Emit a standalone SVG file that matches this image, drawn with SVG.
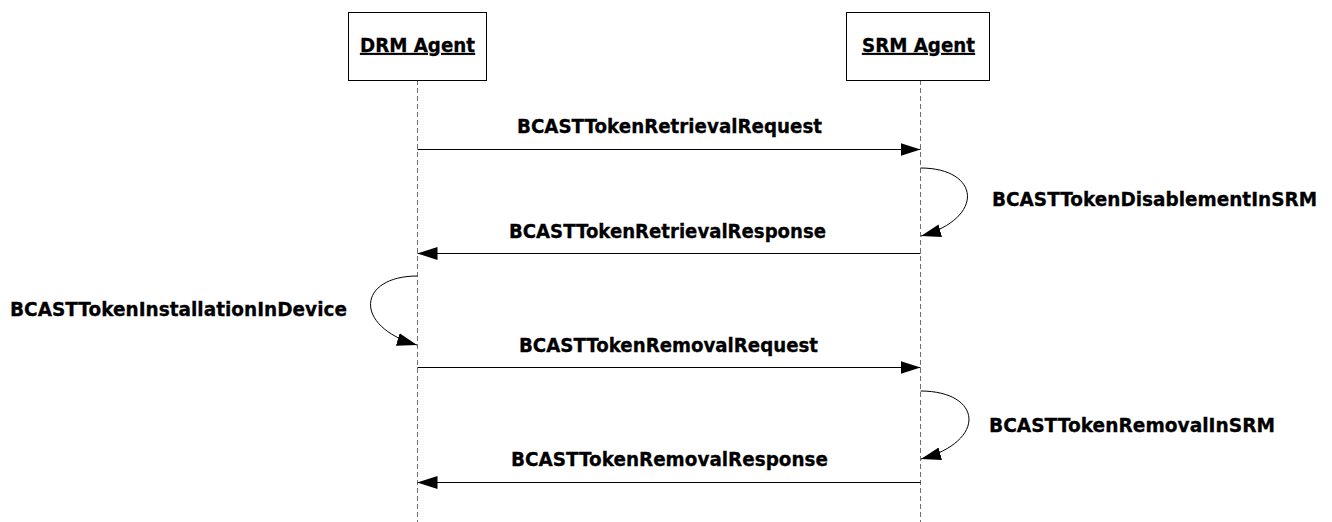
<svg xmlns="http://www.w3.org/2000/svg" width="1332" height="522" viewBox="0 0 1332 522">
  <style>
    .box { fill: #ffffff; stroke: #000000; stroke-width: 1; }
    .life { stroke: #707070; stroke-width: 1; stroke-dasharray: 5 3; fill: none; }
    .msg { stroke: #000000; stroke-width: 1; fill: none; marker-end: url(#head); }
    .lbl { font-family: "DejaVu Sans", Verdana, sans-serif; font-weight: bold; font-size: 19px; fill: #000000; stroke: #000000; stroke-width: 0.3; }
    .title { text-decoration: underline; }
  </style>
  <defs>
    <marker id="head" markerUnits="userSpaceOnUse" markerWidth="20" markerHeight="13" viewBox="0 0 20 13" refX="20" refY="6.5" orient="auto">
      <path d="M0,0 L20,6.5 L0,13 Z" fill="#000000"/>
    </marker>
  </defs>

  <!-- lifelines -->
  <g id="lifelines">
    <line class="life" x1="417.5" y1="80" x2="417.5" y2="522"/>
    <line class="life" x1="920.5" y1="80" x2="920.5" y2="522"/>
  </g>

  <!-- participants -->
  <g id="drm-agent">
    <rect class="box" x="348.5" y="12.5" width="138" height="68"/>
    <text class="lbl title" x="417.5" y="52" text-anchor="middle" textLength="115" lengthAdjust="spacingAndGlyphs">DRM Agent</text>
  </g>
  <g id="srm-agent">
    <rect class="box" x="846.5" y="12.5" width="143" height="68"/>
    <text class="lbl title" x="918.5" y="52" text-anchor="middle" textLength="113" lengthAdjust="spacingAndGlyphs">SRM Agent</text>
  </g>

  <!-- messages and self-calls -->
  <g id="connectors">
    <line class="msg" x1="417.5" y1="149.5" x2="920.5" y2="149.5"/>
    <path class="msg" d="M920.5,168 C980,168 986,218 921,236"/>
    <line class="msg" x1="920.5" y1="253.5" x2="417.5" y2="253.5"/>
    <path class="msg" d="M417.5,276 C358,276 352,326 417,345"/>
    <line class="msg" x1="417.5" y1="367.5" x2="920.5" y2="367.5"/>
    <path class="msg" d="M920.5,391 C982,391 988,441 921,459"/>
    <line class="msg" x1="920.5" y1="482.5" x2="417.5" y2="482.5"/>
  </g>

  <!-- message labels -->
  <g id="labels">
    <text class="lbl" x="517" y="133" textLength="305" lengthAdjust="spacingAndGlyphs">BCASTTokenRetrievalRequest</text>
    <text class="lbl" x="992" y="206" textLength="325" lengthAdjust="spacingAndGlyphs">BCASTTokenDisablementInSRM</text>
    <text class="lbl" x="509" y="238" textLength="317" lengthAdjust="spacingAndGlyphs">BCASTTokenRetrievalResponse</text>
    <text class="lbl" x="10" y="316" textLength="337" lengthAdjust="spacingAndGlyphs">BCASTTokenInstallationInDevice</text>
    <text class="lbl" x="519" y="352" textLength="299" lengthAdjust="spacingAndGlyphs">BCASTTokenRemovalRequest</text>
    <text class="lbl" x="989" y="432" textLength="286" lengthAdjust="spacingAndGlyphs">BCASTTokenRemovalInSRM</text>
    <text class="lbl" x="511" y="466" textLength="317" lengthAdjust="spacingAndGlyphs">BCASTTokenRemovalResponse</text>
  </g>
</svg>
